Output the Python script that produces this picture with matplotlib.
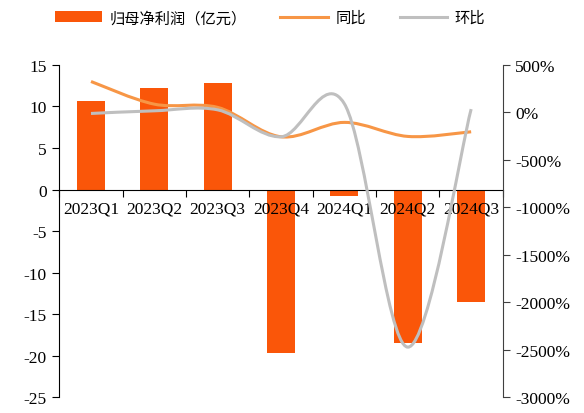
import matplotlib
matplotlib.use('Agg')
import matplotlib.pyplot as plt
import numpy as np
from matplotlib.path import Path
from matplotlib.patches import PathPatch, Patch
from matplotlib.lines import Line2D
from matplotlib.ticker import FuncFormatter

quarters = ['2023Q1', '2023Q2', '2023Q3', '2023Q4', '2024Q1', '2024Q2', '2024Q3']
net_profit = [10.7, 12.2, 12.8, -19.7, -0.8, -18.5, -13.5]   # 亿元
yoy = [326, 87, 53, -257, -105, -253, -204]                    # %
qoq = [-11, 17, 27, -257, 90, -2474, 35]                       # %

BAR_COLOR = '#FA5609'
YOY_COLOR = '#F79646'
QOQ_COLOR = '#BFBFBF'

plt.rcParams['font.family'] = ['Liberation Serif', 'DejaVu Serif']
plt.rcParams['axes.unicode_minus'] = False
FS = 12.5


def smooth_path(xs, ys):
    """Excel-style smoothed line as cubic Bezier segments through the points."""
    pts = np.column_stack([xs, ys]).astype(float)
    ext = np.vstack([pts[0], pts, pts[-1]])
    verts = [pts[0]]
    codes = [Path.MOVETO]
    for i in range(len(pts) - 1):
        p0, p1, p2, p3 = ext[i], ext[i + 1], ext[i + 2], ext[i + 3]
        c1 = p1 + (p2 - p0) / 6.0
        c2 = p2 - (p3 - p1) / 6.0
        verts += [c1, c2, p2]
        codes += [Path.CURVE4] * 3
    return Path(verts, codes)


fig = plt.figure(figsize=(5.84, 4.14), dpi=100)
ax = fig.add_axes([0.1016, 0.0386, 0.7594, 0.802])
ax2 = ax.twinx()

x = np.arange(len(quarters))
# bars below the axis (zorder 1.5) so the quarter labels stay readable on top
ax.bar(x, net_profit, width=0.44, color=BAR_COLOR, zorder=1)
ax.set_xlim(-0.5, len(quarters) - 0.5)
ax.set_ylim(-25, 15)
ax.set_yticks(np.arange(-25, 16, 5))

# category axis sits on the zero line
ax.spines['bottom'].set_position(('data', 0))
ax.spines['top'].set_visible(False)
ax.spines['right'].set_visible(False)
ax.spines['left'].set_color('black')
ax.set_xticks(np.arange(-0.5, len(quarters), 1.0))
ax.set_xticklabels([])
ax.set_xticks(x, minor=True)
ax.set_xticklabels(quarters, minor=True)
ax.tick_params(axis='x', which='major', direction='out', length=5, color='black')
ax.tick_params(axis='x', which='minor', length=0, pad=8, labelsize=FS)
ax.tick_params(axis='y', direction='out', length=5, labelsize=FS, pad=4)

ax2.add_patch(PathPatch(smooth_path(x, yoy), fill=False, edgecolor=YOY_COLOR, lw=2.2, zorder=3))
ax2.add_patch(PathPatch(smooth_path(x, qoq), fill=False, edgecolor=QOQ_COLOR, lw=2.2, zorder=4))
ax2.set_ylim(-3000, 500)
ax2.set_yticks(np.arange(-3000, 501, 500))
ax2.yaxis.set_major_formatter(FuncFormatter(lambda v, _: f'{v:.0f}%'))
ax2.tick_params(axis='y', direction='out', length=5, labelsize=FS, pad=4, color='#404040')
for side in ['top', 'left', 'bottom']:
    ax2.spines[side].set_visible(False)
ax2.spines['right'].set_color('#404040')

handles = [
    Patch(facecolor=BAR_COLOR, edgecolor='none'),
    Line2D([0], [0], color=YOY_COLOR, lw=2.2),
    Line2D([0], [0], color=QOQ_COLOR, lw=2.2),
]
labels = ['归母净利润（亿元）', '同比', '环比']
fig.legend(handles, labels, loc='center', bbox_to_anchor=(0.462, 0.955), ncol=3, frameon=False,
           prop={'family': ['Noto Sans CJK SC', 'DejaVu Sans'], 'size': 11},
           handlelength=3.1, handleheight=0.75, columnspacing=2.2, handletextpad=0.5)

fig.savefig('out.png', dpi=100)
